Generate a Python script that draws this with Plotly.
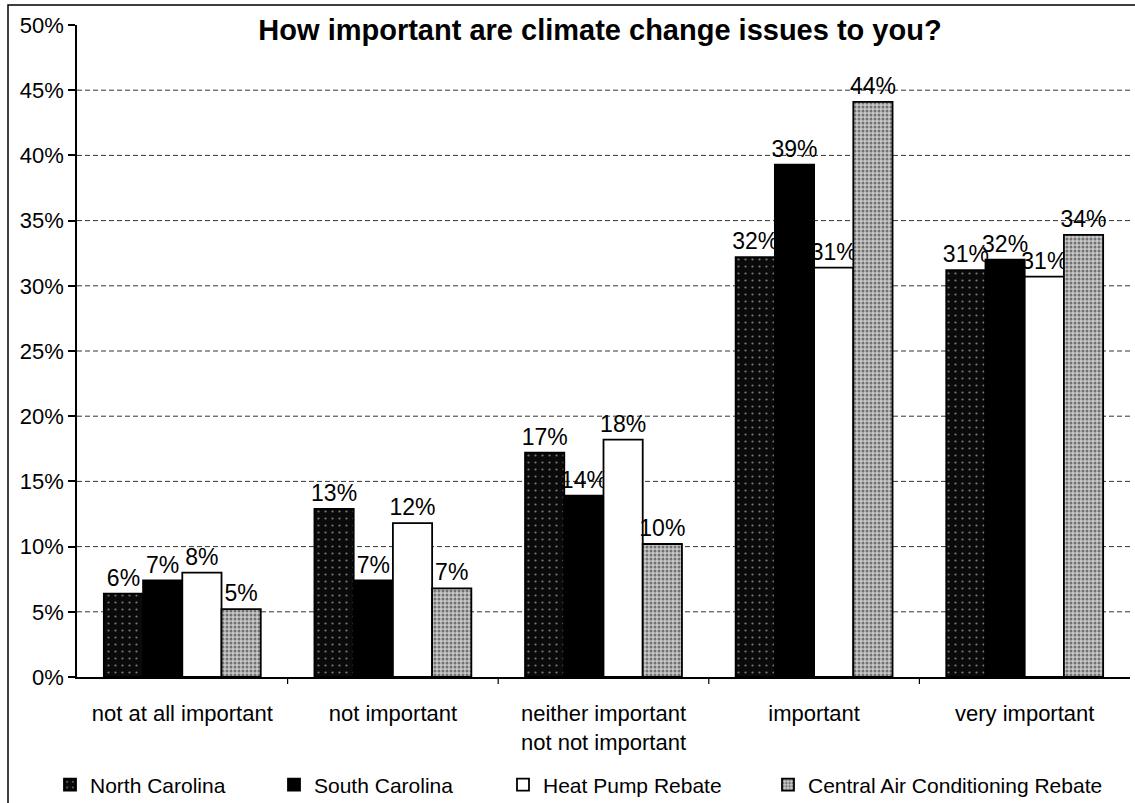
import plotly.graph_objects as go

categories = ["not at all important", "not important",
              "neither important<br>not not important", "important", "very important"]
series_names = ["North Carolina", "South Carolina", "Heat Pump Rebate",
                "Central Air Conditioning Rebate"]
north_carolina = [6.4, 12.9, 17.2, 32.2, 31.2]
south_carolina = [7.4, 7.4, 13.9, 39.3, 32.0]
heat_pump = [8.0, 11.8, 18.2, 31.4, 30.7]
central_ac = [5.2, 6.8, 10.2, 44.1, 33.9]
y_ticks = [0, 5, 10, 15, 20, 25, 30, 35, 40, 45, 50]
y_tick_labels = [f"{v}%" for v in y_ticks]

FONT = "Liberation Sans, Arial, sans-serif"
W, H = 1135, 803
L, R, T, B = 77, 5, 25, 126
PW, PH = W - L - R, H - T - B


def px_x(x):
    return (x - L) / PW


def px_y(y):
    return (H - B - y) / PH


styles = [
    dict(color="#0a0a0a", pattern=dict(shape=".", fgcolor="#e8e8e8", bgcolor="#0a0a0a",
                                       size=7, solidity=0.08, fillmode="overlay")),
    dict(color="#000000"),
    dict(color="#ffffff"),
    dict(color="#9a9a9a", pattern=dict(shape=".", fgcolor="#1a1a1a", bgcolor="#c8c8c8",
                                       size=4, solidity=0.45, fillmode="overlay")),
]
legend_x_px = [50, 274, 503, 768]
legend_names = ["legend", "legend2", "legend3", "legend4"]

fig = go.Figure()
for name, vals, st, lg in zip(series_names,
                              [north_carolina, south_carolina, heat_pump, central_ac],
                              styles, legend_names):
    marker = dict(line=dict(color="black", width=1.8), **st)
    fig.add_trace(go.Bar(
        x=categories, y=vals, name=name, marker=marker, legend=lg, showlegend=True,
        text=[f"{round(v):d}%" for v in vals], textposition="outside",
        constraintext="none",
        textfont=dict(family=FONT, size=23, color="black"), cliponaxis=False,
    ))

legend_common = dict(orientation="h", xref="container", yref="container",
                     y=1 - 785 / H, yanchor="middle", xanchor="left",
                     font=dict(size=21, family=FONT, color="black"),
                     bgcolor="rgba(0,0,0,0)", borderwidth=0, itemwidth=30,
                     visible=True)

fig.update_layout(
    width=W, height=H, showlegend=True,
    margin=dict(l=L, r=R, t=T, b=B, autoexpand=False),
    paper_bgcolor="white", plot_bgcolor="white",
    barmode="group", bargap=0.255, bargroupgap=0,
    font=dict(family=FONT, color="black"),
    title=dict(text="<b>How important are climate change issues to you?</b>",
               xref="container", x=600 / W, xanchor="center",
               yref="container", y=1 - 30 / H, yanchor="middle",
               font=dict(size=29, family=FONT, color="black")),
    legend=dict(x=legend_x_px[0] / W, **legend_common),
    legend2=dict(x=legend_x_px[1] / W, **legend_common),
    legend3=dict(x=legend_x_px[2] / W, **legend_common),
    legend4=dict(x=legend_x_px[3] / W, **legend_common),
    xaxis=dict(showline=True, linecolor="black", linewidth=1.5,
               ticks="", tickfont=dict(size=22, family=FONT), ticklabelstandoff=16),
    yaxis=dict(range=[0, 50], tickvals=y_ticks, ticktext=y_tick_labels,
               showline=True, linecolor="black", linewidth=1.5,
               ticks="outside", ticklen=7, tickcolor="black", tickwidth=1.5,
               tickfont=dict(size=22, family=FONT),
               showgrid=False, zeroline=False),
)

# dashed gridlines (none at the top 50% tick)
for v in y_ticks[1:-1]:
    fig.add_shape(type="line", xref="paper", yref="y", x0=0, x1=1, y0=v, y1=v,
                  layer="below", line=dict(color="#333333", width=1, dash="5px,3px"))

# tick marks between categories on the x axis
for b in [0.5, 1.5, 2.5, 3.5]:
    fig.add_shape(type="line", xref="x", yref="paper", x0=b, x1=b, y0=0, y1=px_y(684),
                  line=dict(color="black", width=1.2))

# outer frame (left and top edges of the scanned chart border)
xl, xr = px_x(8), px_x(W)
yt, yb = px_y(5), px_y(H)
fig.add_shape(type="path", xref="paper", yref="paper",
              path=f"M {xl},{yb} L {xl},{yt} L {xr},{yt}",
              line=dict(color="black", width=1.5))

fig.write_html("out.html")
